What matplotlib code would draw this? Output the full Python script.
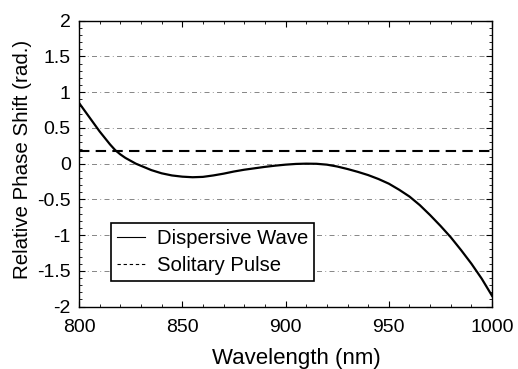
import matplotlib
matplotlib.use('Agg')
import matplotlib.pyplot as plt
from matplotlib.lines import Line2D
from matplotlib.ticker import MultipleLocator

# Dane
wavelength = [800, 802.5, 805, 807.5, 810, 812.5, 815, 817.5, 820, 822.5, 825,
              827.5, 830, 835, 840, 845, 850, 855, 860, 865, 870, 875, 880,
              885, 890, 895, 900, 905, 910, 915, 920, 925, 930, 935, 940, 945,
              950, 955, 960, 965, 970, 975, 980, 985, 990, 995, 1000]
dispersive = [0.85, 0.75, 0.65, 0.55, 0.45, 0.36, 0.27, 0.19, 0.13, 0.08, 0.04,
              0.0, -0.03, -0.09, -0.135, -0.165, -0.182, -0.19, -0.185, -0.165,
              -0.14, -0.11, -0.085, -0.065, -0.045, -0.028, -0.014, -0.004, 0.0,
              -0.002, -0.014, -0.04, -0.075, -0.115, -0.16, -0.215, -0.28,
              -0.365, -0.46, -0.58, -0.72, -0.87, -1.03, -1.21, -1.40, -1.61,
              -1.85]
soliton_x = [800, 1000]
soliton_y = [0.18, 0.18]

x_ticks = [800, 850, 900, 950, 1000]
y_ticks = [-2, -1.5, -1, -0.5, 0, 0.5, 1, 1.5, 2]
y_labels = ['-2', '-1.5', '-1', '-0.5', '0', '0.5', '1', '1.5', '2']

plt.rcParams['font.family'] = ['Liberation Sans', 'DejaVu Sans']

fig = plt.figure(figsize=(5.18, 3.69), dpi=100)
ax = fig.add_axes([0.1525, 0.169, 0.7975, 0.775])

# siatka pozioma
for yv in y_ticks[1:-1]:
    ax.axhline(yv, color='0.45', lw=0.6, ls=(0, (6, 4, 1, 4)), zorder=0)

ax.plot(wavelength, dispersive, color='black', lw=1.6)
ax.plot(soliton_x, soliton_y, color='black', lw=1.5, ls=(0, (5, 3)))

ax.set_xlim(800, 1000)
ax.set_ylim(-2, 2)
ax.set_xticks(x_ticks)
ax.set_yticks(y_ticks)
ax.set_yticklabels(y_labels)
ax.xaxis.set_minor_locator(MultipleLocator(10))
ax.yaxis.set_minor_locator(MultipleLocator(0.1))
ax.tick_params(which='both', direction='in', top=True, right=True, labelsize=14)
ax.tick_params(which='major', length=4, width=0.8)
ax.tick_params(which='minor', length=2, width=0.6)
ax.tick_params(axis='x', pad=9)
ax.tick_params(axis='y', pad=6)
ax.set_xlabel('Wavelength (nm)', fontsize=16)
ax.set_ylabel('Relative Phase Shift (rad.)', fontsize=14.8)
ax.xaxis.set_label_coords(0.527, -0.144)
ax.yaxis.set_label_coords(-0.114, 0.513)
for s in ax.spines.values():
    s.set_linewidth(1.0)

handles = [Line2D([], [], color='black', lw=0.8),
           Line2D([], [], color='black', lw=0.8, ls=(0, (3, 2.5)))]
leg = ax.legend(handles, ['Dispersive Wave', 'Solitary Pulse'],
                loc='lower left', bbox_to_anchor=(0.0775, 0.09),
                fontsize=14.6, frameon=True, fancybox=False, framealpha=1,
                edgecolor='black', handlelength=1.4, handletextpad=0.58,
                borderaxespad=0, labelspacing=0.4, borderpad=0.28)
leg.get_frame().set_linewidth(1.2)

fig.savefig('out.png', dpi=100)
